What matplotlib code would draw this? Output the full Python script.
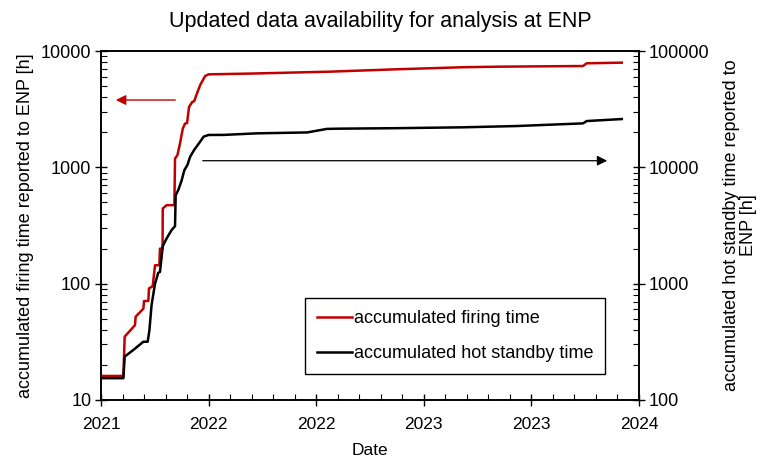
import matplotlib
matplotlib.use("Agg")
import matplotlib.pyplot as plt
from matplotlib.ticker import FixedLocator, MultipleLocator, LogLocator, NullFormatter, FuncFormatter

plt.rcParams['font.family'] = ['Liberation Sans', 'DejaVu Sans']

# accumulated firing time (left axis, hours)
red_x = [2021.000, 2021.104, 2021.110, 2021.158, 2021.161, 2021.197, 2021.200, 2021.220,
         2021.223, 2021.240, 2021.251, 2021.271, 2021.274, 2021.286, 2021.287, 2021.305,
         2021.341, 2021.344, 2021.355, 2021.367, 2021.380, 2021.390, 2021.400, 2021.409,
         2021.424, 2021.433, 2021.446, 2021.461, 2021.484, 2021.500, 2021.700, 2022.000,
         2022.060, 2022.370, 2022.680, 2022.840, 2023.240, 2023.257, 2023.420]
red_y = [16.1, 16.1, 35, 44, 52, 61, 71, 71,
         91, 95, 144, 144, 200, 200, 443, 473,
         473, 1191, 1270, 1600, 2150, 2375, 2400, 3300,
         3650, 3700, 4320, 5100, 6100, 6300, 6400, 6600,
         6640, 6960, 7250, 7330, 7430, 7840, 7940]

# accumulated hot standby time (right axis, hours)
blk_x = [2021.000, 2021.104, 2021.110, 2021.150, 2021.197, 2021.217, 2021.225, 2021.235,
         2021.251, 2021.266, 2021.274, 2021.287, 2021.305, 2021.328, 2021.344, 2021.347,
         2021.359, 2021.375, 2021.387, 2021.401, 2021.414, 2021.432, 2021.460, 2021.477,
         2021.500, 2021.570, 2021.725, 2021.958, 2022.050, 2022.110, 2022.370, 2022.680,
         2022.930, 2023.240, 2023.257, 2023.420]
blk_y = [154, 154, 236, 269, 317, 317, 399, 655,
         1000, 1240, 1260, 2100, 2450, 2890, 3120, 5760,
         6370, 7750, 9440, 10420, 12300, 14030, 16550, 18360,
         18980, 19000, 19600, 19950, 21400, 21500, 21700, 22080,
         22640, 23870, 25000, 26000]

x_ticks = [2021.0, 2021.5, 2022.0, 2022.5, 2023.0, 2023.5]
x_tick_labels = ['2021', '2022', '2022', '2023', '2023', '2024']

fig = plt.figure(figsize=(7.61, 4.58), dpi=100)
ax = fig.add_axes([101/761, 1 - 400/458, 538/761, 349/458])
ax2 = ax.twinx()

red_line, = ax.plot(red_x, red_y, color='#c00000', lw=1.8, label='accumulated firing time')
blk_line, = ax2.plot(blk_x, blk_y, color='black', lw=1.8, label='accumulated hot standby time')

ax.set_yscale('log')
ax2.set_yscale('log')
ax.set_ylim(10, 10000)
ax2.set_ylim(100, 100000)
ax.set_xlim(2021.0, 2023.5)

ax.xaxis.set_major_locator(FixedLocator(x_ticks))
ax.set_xticklabels(x_tick_labels)
ax.xaxis.set_minor_locator(MultipleLocator(0.1))

for a in (ax, ax2):
    a.yaxis.set_major_locator(LogLocator(base=10, numticks=10))
    a.yaxis.set_minor_locator(LogLocator(base=10, subs=range(2, 10), numticks=20))
    a.yaxis.set_minor_formatter(NullFormatter())
    a.yaxis.set_major_formatter(FuncFormatter(lambda v, p: f"{int(round(v))}"))
    a.tick_params(which='major', direction='inout', length=8, width=1.0, labelsize=13, pad=3)
    a.tick_params(which='minor', direction='in', length=4, width=0.8)
    for s in a.spines.values():
        s.set_linewidth(1.2)
ax.tick_params(axis='x', which='major', labelsize=12.5, pad=8)

ax.set_xlabel('Date', fontsize=12.5, labelpad=8)
ax.set_ylabel('accumulated firing time reported to ENP [h]', fontsize=13, labelpad=5)
ax2.set_ylabel('accumulated hot standby time reported to\nENP [h]', fontsize=13,
               labelpad=10, linespacing=1.0)
fig.suptitle('Updated data availability for analysis at ENP', fontsize=15.5,
             x=0.5, y=0.975)

# arrows indicating axis
ax.annotate('', xy=(2021.056, 3790), xytext=(2021.358, 3790),
            arrowprops=dict(arrowstyle='-|>', color='#c00000', lw=1.0, mutation_scale=15))
ax.annotate('', xy=(2023.365, 1140), xytext=(2021.46, 1140),
            arrowprops=dict(arrowstyle='-|>', color='black', lw=0.9, mutation_scale=15))

leg = ax.legend(handles=[red_line, blk_line], loc='upper left',
                bbox_to_anchor=(0.379, 0.292), fontsize=13, frameon=True,
                fancybox=False, edgecolor='black', framealpha=1,
                handlelength=1.95, handletextpad=0.12, labelspacing=1.0,
                borderpad=0.65, borderaxespad=0)
leg.get_frame().set_linewidth(1.0)
leg.set_zorder(5)

fig.savefig('out.png', dpi=100)
